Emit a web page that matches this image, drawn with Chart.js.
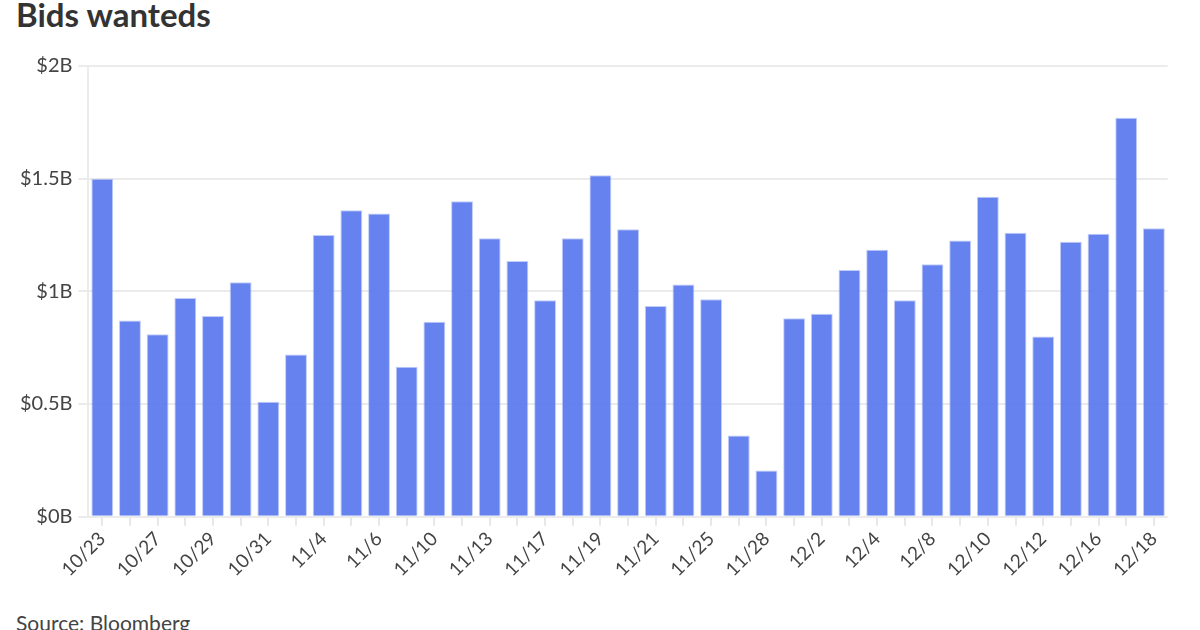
<!DOCTYPE html>
<html>
<head>
<meta charset="utf-8">
<script src="https://cdn.jsdelivr.net/npm/chart.js@4/dist/chart.umd.min.js"></script>
<style>
  body { margin: 0; width: 1200px; height: 630px; overflow: hidden; background: #fff; font-family: Lato, sans-serif; }
  #title { position: absolute; left: 16px; top: -6px; font-size: 33px; font-weight: bold; color: #333; }
  #source { position: absolute; left: 16px; top: 610px; font-size: 21px; color: #444; }
  #wrap { position: absolute; left: 0; top: 48px; width: 1172px; height: 535px; }
</style>
</head>
<body>
<div id="title">Bids wanteds</div>
<div id="wrap"><canvas id="chart"></canvas></div>
<div id="source">Source: Bloomberg</div>
<script>
// Dates (business days, every other one labelled)
const dates = [
  '10/23', '10/24', '10/27', '10/28', '10/29', '10/30', '10/31',
  '11/3', '11/4', '11/5', '11/6', '11/7', '11/10', '11/12', '11/13', '11/14',
  '11/17', '11/18', '11/19', '11/20', '11/21', '11/24', '11/25', '11/26', '11/28',
  '12/1', '12/2', '12/3', '12/4', '12/5', '12/8', '12/9', '12/10', '12/11', '12/12',
  '12/15', '12/16', '12/17', '12/18'
];

// Bids wanted volume, $ billions
const volumes = [
  1.50, 0.87, 0.81, 0.97, 0.89, 1.04, 0.51,
  0.72, 1.25, 1.36, 1.345, 0.665, 0.865, 1.40, 1.235, 1.135,
  0.96, 1.235, 1.515, 1.275, 0.935, 1.03, 0.965, 0.36, 0.205,
  0.88, 0.90, 1.095, 1.185, 0.96, 1.12, 1.225, 1.42, 1.26, 0.80,
  1.22, 1.255, 1.77, 1.28
];

const yTicks = [0, 0.5, 1, 1.5, 2];

const ctx = document.getElementById('chart').getContext('2d');
new Chart(ctx, {
  type: 'bar',
  data: {
    labels: dates,
    datasets: [{
      label: 'Bids wanteds',
      data: volumes,
      backgroundColor: 'rgba(90, 120, 238, 0.93)',
      borderColor: 'rgba(150, 170, 245, 0.6)',
      borderWidth: 1,
      barPercentage: 0.79,
      categoryPercentage: 1
    }]
  },
  options: {
    responsive: true,
    maintainAspectRatio: false,
    animation: false,
    layout: { padding: { left: 14, right: 0, top: 8, bottom: 0 } },
    plugins: { legend: { display: false }, tooltip: { enabled: false } },
    scales: {
      x: {
        offset: true,
        grid: { offset: false, drawOnChartArea: false, drawTicks: true, tickLength: 9, color: '#e8e8e8', lineWidth: 2 },
        border: { display: false },
        ticks: {
          autoSkip: false,
          maxRotation: 45,
          minRotation: 45,
          color: '#444',
          font: { family: 'Lato', size: 19 },
          padding: 2,
          callback: (v, i) => (i % 2 === 0 ? dates[i] : '')
        }
      },
      y: {
        min: 0,
        max: 2,
        afterBuildTicks: (axis) => { axis.ticks = yTicks.map((v) => ({ value: v })); },
        grid: { color: '#ebebeb', lineWidth: 2, tickLength: 10 },
        border: { display: true, color: '#ebebeb', width: 2 },
        ticks: {
          color: '#444',
          font: { family: 'Lato', size: 20 },
          padding: 6,
          callback: (v) => '$' + v + 'B'
        }
      }
    }
  }
});
</script>
</body>
</html>
